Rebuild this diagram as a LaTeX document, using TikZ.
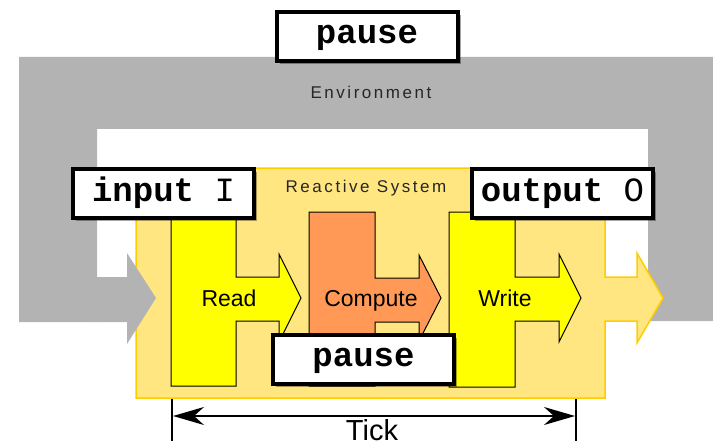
\documentclass[tikz,border=0pt]{standalone}
\usepackage{fontspec}
\setmainfont{Liberation Sans}
\newfontfamily\boxmono{Liberation Mono}
\newfontfamily\spacedsans[LetterSpace=15]{Liberation Sans}
\usetikzlibrary{shadows,arrows.meta}
\definecolor{envgray}{HTML}{B3B3B3}
\definecolor{rsfill}{HTML}{FFE680}
\definecolor{rsline}{HTML}{FFCC00}
\definecolor{stepyellow}{HTML}{FFFF00}
\definecolor{computeorange}{HTML}{FF9955}
\begin{document}
\begin{tikzpicture}[x=1pt,y=-1pt,
  kwbox/.style={draw=black, line width=4pt, fill=white, minimum width=181pt, minimum height=49pt,
    inner sep=0pt, text height=16pt, text depth=1pt,
    font=\boxmono\fontsize{34}{34}\selectfont\bfseries,
    drop shadow={shadow xshift=3pt, shadow yshift=-3pt, opacity=0.35, fill=black}},
  stepshape/.style={draw=black, line width=1pt, line join=miter},
  steplabel/.style={font=\fontsize{23}{23}\selectfont, inner sep=0pt, anchor=base},
  spacedlabel/.style={font=\spacedsans\fontsize{17}{17}\selectfont, inner sep=0pt, anchor=base, text=black!85},
  dimline/.style={draw=black, line width=2pt}]
\useasboundingbox (0,0) rectangle (713,444);
% environment frame
\fill[envgray] (19,57) -- (713,57) -- (713,321) -- (648,321) -- (648,129) -- (97,129)
  -- (97,322) -- (19,322) -- cycle;
% reactive system box with output arrow
\filldraw[fill=rsfill, draw=rsline, line width=1.5pt, line join=miter]
  (136,168) -- (605,168) -- (605,277) -- (637,277) -- (637,253) -- (663,298) -- (637,343)
  -- (637,321) -- (605,321) -- (605,398) -- (136,398) -- cycle;
% environment input arrow
\fill[envgray] (95,277) -- (127,277) -- (127,253) -- (156,298) -- (127,344) -- (127,322) -- (95,322) -- cycle;
\node[spacedlabel] (env) at (371,99) {Environment};
\node[spacedlabel] (rs) at (366,192) {Reactive System};
% steps
\filldraw[stepshape, fill=stepyellow] (171,212) -- (236,212) -- (236,277) -- (279,277) -- (279,254)
  -- (301,298) -- (279,342) -- (279,321) -- (236,321) -- (236,386) -- (171,386) -- cycle;
\filldraw[stepshape, fill=computeorange] (309,212) -- (375,212) -- (375,278) -- (419,278) -- (419,255)
  -- (441,298) -- (419,341) -- (419,322) -- (375,322) -- (375,386) -- (309,386) -- cycle;
\filldraw[stepshape, fill=stepyellow] (449,212) -- (515,212) -- (515,277) -- (559,277) -- (559,254)
  -- (581,298) -- (559,342) -- (559,321) -- (515,321) -- (515,387) -- (449,387) -- cycle;
\node[steplabel] (read) at (229,306) {Read};
\node[steplabel] (compute) at (371,306) {Compute};
\node[steplabel] (write) at (505,306) {Write};
% keyword boxes
\node[kwbox] (pausetop) at (367,36.5) {pause};
\node[kwbox] (input) at (163.5,193.5) {input {\mdseries I}};
\node[kwbox] (output) at (562.5,193.5) {output {\mdseries O}};
\node[kwbox] (pausebot) at (363.5,359) {pause};
% tick dimension
\coordinate (tl1) at (172,399); \coordinate (tl2) at (172,441);
\coordinate (tr1) at (576,399); \coordinate (tr2) at (576,441);
\coordinate (ta) at (173,416); \coordinate (tb) at (575,416);
\draw[dimline] (tl1) -- (tl2);
\draw[dimline] (tr1) -- (tr2);
\draw[line width=1.5pt, {Stealth[length=31pt,width=18pt,inset=10pt]}-{Stealth[length=31pt,width=18pt,inset=10pt]}] (ta) -- (tb);
\node[font=\fontsize{29}{29}\selectfont, inner sep=0pt, text depth=0pt, anchor=base] (tick) at (372,440) {Tick};
\end{tikzpicture}
\end{document}
